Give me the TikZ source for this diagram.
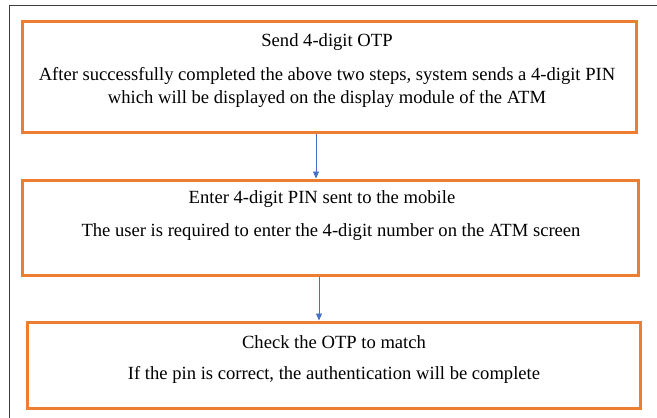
\documentclass[tikz,border=0pt]{standalone}
\usepackage{fontspec}
\setmainfont{Liberation Serif}
\usetikzlibrary{arrows.meta}
\definecolor{boxorange}{RGB}{237,125,49}
\definecolor{arrowblue}{RGB}{68,114,196}
\definecolor{framegray}{RGB}{60,60,60}
\begin{document}
\begin{tikzpicture}[x=1pt,y=-1pt,
  stepbox/.style={draw=boxorange, line width=3pt, fill=white, inner sep=0pt},
  txt/.style={font=\fontsize{18.6}{23}\selectfont, inner sep=0pt, anchor=center, align=center},
  flow/.style={draw=arrowblue, line width=0.9pt, -{Triangle[length=7pt,width=6pt]}}]
\useasboundingbox[fill=white] (0,0) rectangle (657,418);
\draw[framegray, line width=1.3pt] (657,5.5) -- (9.5,5.5) -- (9.5,418);
% boxes
\node[stepbox, minimum width=614pt, minimum height=111pt] (b1) at (329,76.5) {};
\node[stepbox, minimum width=616pt, minimum height=95pt] (b2) at (330,227.5) {};
\node[stepbox, minimum width=613pt, minimum height=86pt] (b3) at (333.5,365) {};
% texts
\node[txt] (t1) at (327,42) {Send 4-digit OTP};
\node[txt] (d1) at (327,87.5) {After successfully completed the above two steps, system sends a 4-digit PIN\\which will be displayed on the display module of the ATM};
\node[txt] (t2) at (322,199) {Enter 4-digit PIN sent to the mobile};
\node[txt] (d2) at (331,232) {The user is required to enter the 4-digit number on the ATM screen};
\node[txt] (t3) at (334,342) {Check the OTP to match};
\node[txt] (d3) at (334,375) {If the pin is correct, the authentication will be complete};
% arrows
\coordinate (a1s) at (316,132);
\coordinate (a1e) at (316,180);
\coordinate (a2s) at (319,275);
\coordinate (a2e) at (319,322);
\draw[flow] (b1.south -| a1s) -- (b2.north -| a1e);
\draw[flow] (b2.south -| a2s) -- (b3.north -| a2e);
\end{tikzpicture}
\end{document}
